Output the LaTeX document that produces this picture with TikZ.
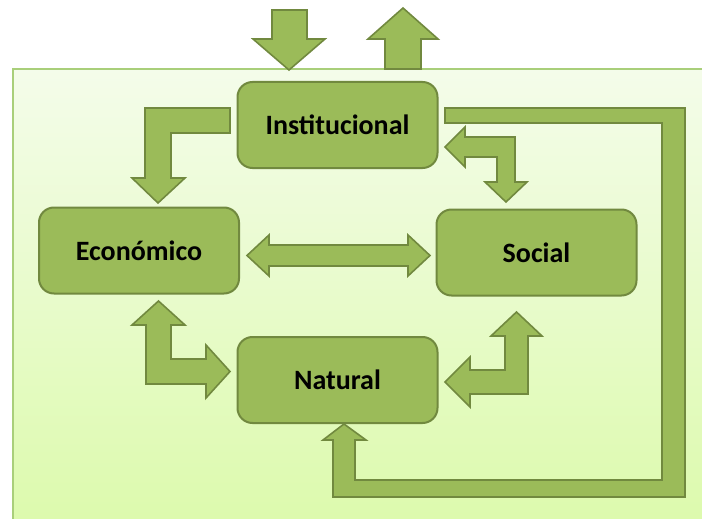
\documentclass[tikz,border=0pt]{standalone}
\usepackage{fontspec}
\setmainfont{Carlito}
\definecolor{olivefill}{HTML}{9BBB59}
\definecolor{olivedark}{HTML}{71893F}
\definecolor{bgtop}{HTML}{F4FCEA}
\definecolor{bgbot}{HTML}{DCFAAC}
\definecolor{bgedge}{HTML}{A9CF7A}
\begin{document}
\begin{tikzpicture}[x=1pt,y=-1pt,
  box/.style={draw=olivedark, fill=olivefill, line width=2pt, rounded corners=15pt,
    minimum width=200pt, minimum height=86pt, inner sep=0pt,
    font=\fontsize{28}{30}\selectfont\bfseries, text=black},
  blockarrow/.style={draw=olivedark, fill=olivefill, line width=1.6pt, line join=miter}]
\useasboundingbox (0,0) rectangle (702,519);
% background panel
\fill[top color=bgtop, bottom color=bgbot] (13,69) rectangle (710,530);
\draw[bgedge, line width=1.2pt] (13,530) -- (13,69) -- (710,69);

% boxes
\node[box] (inst) at (337.5,125) {Institucional};
\node[box] (econ) at (139,250.5) {Económico};
\node[box] (soc)  at (536.5,252.5) {Social};
\node[box] (nat)  at (337.5,380) {Natural};

% external arrows
\draw[blockarrow] (272,10) -- (307,10) -- (307,39) -- (325,39) -- (289,70) -- (253,39) -- (272,39) -- cycle;
\draw[blockarrow] (385,69) -- (385,39) -- (368,39) -- (403,8) -- (438,39) -- (421,39) -- (421,69) -- cycle;

% Institucional -> Economico
\draw[blockarrow] (230,108) -- (145,108) -- (145,178) -- (132,178) -- (158,203) -- (185,178) -- (171,178) -- (171,133) -- (230,133) -- cycle;

% Institucional <-> Social
\draw[blockarrow] (445,147) -- (465,127) -- (465,137) -- (515,137) -- (515,182) -- (527,182) -- (506,202) -- (485,182) -- (497,182) -- (497,157) -- (465,157) -- (465,167) -- cycle;

% Economico <-> Social
\draw[blockarrow] (247,255.5) -- (269,235) -- (269,245) -- (408,245) -- (408,235) -- (430,255.5) -- (408,276) -- (408,266) -- (269,266) -- (269,276) -- cycle;

% Economico <-> Natural
\draw[blockarrow] (158.5,301) -- (185,325) -- (171,325) -- (171,359) -- (206,359) -- (206,345) -- (230,371.5) -- (206,398) -- (206,384) -- (146,384) -- (146,325) -- (132,325) -- cycle;

% Social <-> Natural
\draw[blockarrow] (516.5,312) -- (542,336) -- (528,336) -- (528,394) -- (470,394) -- (470,407) -- (445,382) -- (470,357) -- (470,370) -- (505,370) -- (505,336) -- (491,336) -- cycle;

% Institucional -> Natural loop
\draw[blockarrow] (445,108) -- (685,108) -- (685,497) -- (333,497) -- (333,440) -- (323,440) -- (344,424) -- (366,440) -- (355,440) -- (355,480) -- (662,480) -- (662,123) -- (445,123) -- cycle;
\end{tikzpicture}
\end{document}
